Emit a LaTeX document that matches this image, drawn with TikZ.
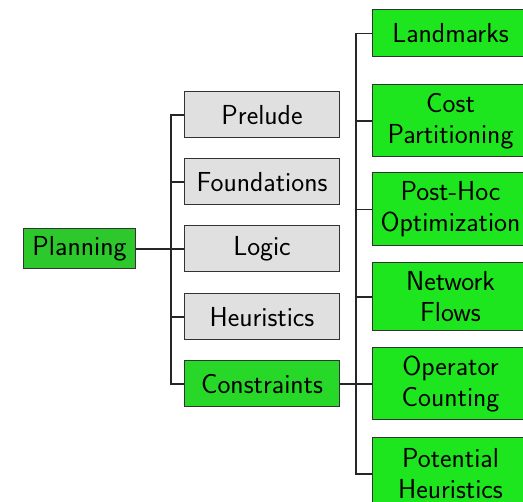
\documentclass[tikz,border=0pt]{standalone}
\usepackage{tikz}
\definecolor{rootgreen}{HTML}{2CC82C}
\definecolor{midgreen}{HTML}{28D828}
\definecolor{leafgreen}{HTML}{1EE61E}
\definecolor{topicgray}{HTML}{E0E0E0}
\begin{document}
\begin{tikzpicture}[x=1pt,y=1pt,
  every node/.style={font=\fontsize{27.5}{31}\selectfont\sffamily},
  box/.style={draw=black!80, line width=1pt, anchor=west, inner sep=2pt, align=center},
  rootbox/.style={box, fill=rootgreen, minimum width=112pt, minimum height=40pt},
  topicbox/.style={box, fill=topicgray, minimum width=155pt, minimum height=46pt},
  focusbox/.style={topicbox, fill=midgreen},
  leafbox/.style={box, fill=leafgreen, text width=152pt, minimum height=47pt},
  link/.style={draw=black!85, line width=1.1pt}]
\useasboundingbox (0,0) rectangle (523,-502);
\clip (0,0) rectangle (523,-502);

% root
\node[rootbox] (planning) at (23,-249) {Planning};

% topics
\node[topicbox] (prelude)     at (184,-115) {Prelude};
\node[topicbox] (foundations) at (184,-182) {Foundations};
\node[topicbox] (logic)       at (184,-249) {Logic};
\node[topicbox] (heuristics)  at (184,-317) {Heuristics};
\node[focusbox] (constraints) at (184,-384) {Constraints};

% constraint subtopics
\node[leafbox] (landmarks) at (372,-33.5) {Landmarks};
\node[leafbox, minimum height=72pt] (costpart) at (372,-121) {Cost\\Partitioning};
\node[leafbox, minimum height=73pt] (posthoc)  at (372,-209.5) {Post-Hoc\\Optimization};
\node[leafbox, minimum height=68pt] (netflows) at (372,-297) {Network\\Flows};
\node[leafbox, minimum height=72pt] (opcount)  at (372,-384) {Operator\\Counting};
\node[leafbox, minimum height=72pt] (potential) at (372,-474) {Potential\\Heuristics};

% root to topics
\draw[link] (planning.east) -- (logic.west);
\draw[link] (prelude.west) -| ([xshift=-13pt]constraints.west) -- (constraints.west);
\foreach \n in {foundations,heuristics}
  \draw[link] (\n.west) -- ++(-13pt,0);

% constraints to subtopics
\draw[link] (constraints.east) -- (opcount.west);
\draw[link] (landmarks.west) -| ([xshift=-16pt]potential.west) -- (potential.west);
\foreach \n in {costpart,posthoc,netflows}
  \draw[link] (\n.west) -- ++(-16pt,0);
\end{tikzpicture}
\end{document}
